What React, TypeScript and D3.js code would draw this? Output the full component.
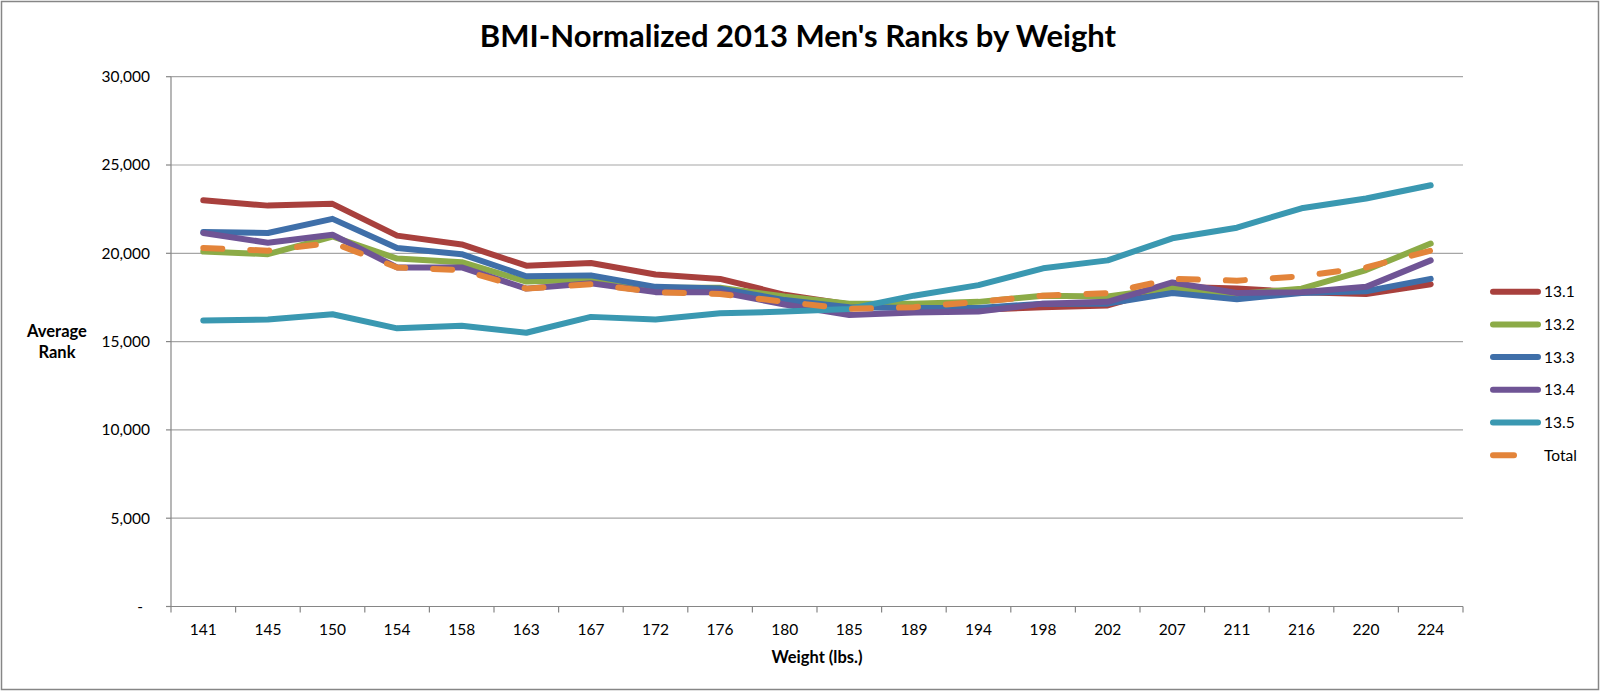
import React from 'react';
import * as d3 from 'd3';

const weights = ['141', '145', '150', '154', '158', '163', '167', '172', '176', '180', '185', '189', '194', '198', '202', '207', '211', '216', '220', '224'];

const s131 = [23000, 22700, 22800, 21000, 20500, 19300, 19450, 18800, 18550, 17650, 17100, 16900, 16800, 16950, 17050, 18100, 18000, 17800, 17700, 18250];
const s132 = [20100, 19950, 20950, 19700, 19500, 18400, 18500, 18050, 18050, 17550, 17150, 17150, 17250, 17600, 17550, 18050, 17700, 18000, 19050, 20550];
const s133 = [21200, 21150, 21950, 20300, 19950, 18700, 18750, 18100, 18000, 17350, 16950, 16900, 16900, 17150, 17150, 17750, 17400, 17750, 17850, 18550];
const s134 = [21150, 20600, 21050, 19200, 19200, 18000, 18300, 17800, 17800, 17100, 16500, 16650, 16700, 17150, 17250, 18350, 17750, 17800, 18100, 19600];
const s135 = [16200, 16250, 16550, 15750, 15900, 15500, 16400, 16250, 16600, 16700, 16850, 17600, 18200, 19150, 19600, 20850, 21450, 22550, 23100, 23850];
const total = [20300, 20150, 20600, 19200, 19050, 18000, 18250, 17800, 17700, 17250, 16850, 16950, 17250, 17600, 17750, 18550, 18450, 18700, 19200, 20150];

const seriesNames = ['13.1', '13.2', '13.3', '13.4', '13.5', 'Total'];
const seriesValues = [s131, s132, s133, s134, s135, total];
const seriesColors = ['#A8403D', '#8CAB47', '#3F6FA9', '#6F5495', '#3A98B1', '#E3843A'];

const yTicks = [0, 5000, 10000, 15000, 20000, 25000, 30000];

const W = 1600;
const H = 691;
const plot = { left: 171, right: 1463, top: 76.7, bottom: 606.5 };
const font = 'Lato, Calibri, "Open Sans", sans-serif';

export default function App() {
  const x = d3.scaleBand().domain(weights).range([plot.left, plot.right]).padding(0);
  const y = d3.scaleLinear().domain([0, 30000]).range([plot.bottom, plot.top]);
  const cx = (w: string) => (x(w) || 0) + x.bandwidth() / 2;

  const line = d3.line<number>()
    .x((_, i) => cx(weights[i]))
    .y(d => y(d));

  const fmt = d3.format(',');
  const boundaries = weights.map(w => x(w) || 0).concat([plot.right]);

  return (
    <div style={{ position: 'fixed', left: 0, top: 0 }}>
      <svg width={W} height={H} style={{ display: 'block', background: '#fff' }}>
        <rect x={1.5} y={1.5} width={W - 3} height={H - 3} fill="#fff" stroke="#868686" strokeWidth={1.5} />

        <text x={798} y={47} textAnchor="middle" fontFamily={font} fontWeight={700} fontSize={31} fill="#000">
          BMI-Normalized 2013 Men's Ranks by Weight
        </text>

        {/* Gridlines */}
        {yTicks.filter(t => t > 0).map(t => (
          <line key={t} x1={plot.left} x2={plot.right} y1={y(t)} y2={y(t)} stroke="#A6A6A6" strokeWidth={1.2} />
        ))}

        {/* Y axis */}
        <line x1={plot.left} x2={plot.left} y1={plot.top} y2={plot.bottom} stroke="#868686" strokeWidth={1.2} />
        {yTicks.map(t => (
          <g key={t}>
            <line x1={plot.left - 5} x2={plot.left} y1={y(t)} y2={y(t)} stroke="#868686" strokeWidth={1.2} />
            <text x={t === 0 ? 143 : 150} y={y(t)} dy="0.35em" textAnchor="end" fontFamily={font} fontSize={15.5} fill="#000">
              {t === 0 ? '-' : fmt(t)}
            </text>
          </g>
        ))}

        {/* X axis */}
        <line x1={plot.left} x2={plot.right} y1={plot.bottom} y2={plot.bottom} stroke="#868686" strokeWidth={1.2} />
        {boundaries.map((b, i) => (
          <line key={i} x1={b} x2={b} y1={plot.bottom} y2={plot.bottom + 6} stroke="#868686" strokeWidth={1.2} />
        ))}
        {weights.map(w => (
          <text key={w} x={cx(w)} y={630} dy="0.35em" textAnchor="middle" fontFamily={font} fontSize={15.5} fill="#000">
            {w}
          </text>
        ))}

        <text x={817} y={657} dy="0.35em" textAnchor="middle" fontFamily={font} fontWeight={700} fontSize={16.5} fill="#000">
          Weight (lbs.)
        </text>
        <text x={57} y={331} dy="0.35em" textAnchor="middle" fontFamily={font} fontWeight={700} fontSize={16.5} fill="#000">
          Average
        </text>
        <text x={57} y={352} dy="0.35em" textAnchor="middle" fontFamily={font} fontWeight={700} fontSize={16.5} fill="#000">
          Rank
        </text>

        {/* Series */}
        {seriesValues.map((vals, i) => (
          <path
            key={seriesNames[i]}
            d={line(vals) || ''}
            fill="none"
            stroke={seriesColors[i]}
            strokeWidth={6}
            strokeLinecap="round"
            strokeLinejoin="round"
            strokeDasharray={seriesNames[i] === 'Total' ? '19,28' : undefined}
          />
        ))}

        {/* Legend */}
        {seriesNames.map((name, i) => {
          const ly = 291.7 + i * 32.7;
          const isTotal = name === 'Total';
          return (
            <g key={name}>
              <line x1={1493} x2={isTotal ? 1514 : 1538} y1={ly} y2={ly} stroke={seriesColors[i]} strokeWidth={6} strokeLinecap="round" />
              <text x={1544} y={ly} dy="0.35em" fontFamily={font} fontSize={15.5} fill="#000">
                {name}
              </text>
            </g>
          );
        })}
      </svg>
    </div>
  );
}
